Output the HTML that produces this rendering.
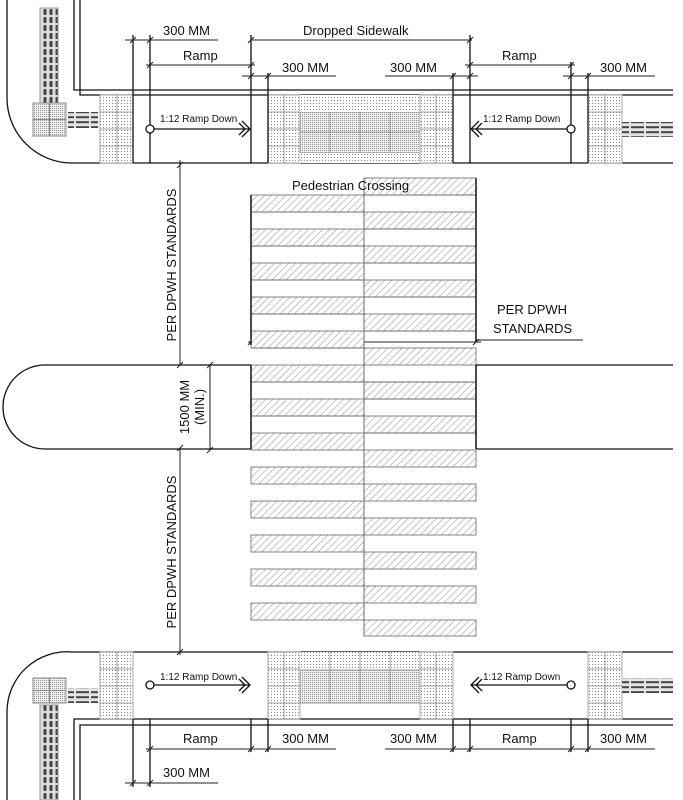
<!DOCTYPE html>
<html><head><meta charset="utf-8"><style>
html,body{margin:0;padding:0;background:#fff;}
svg{display:block;}
text{font-family:"Liberation Sans",sans-serif;fill:#111;}
</style></head><body>
<svg width="683" height="800" viewBox="0 0 683 800" xmlns="http://www.w3.org/2000/svg">
<defs>
<pattern id="hatch" width="5" height="5" patternUnits="userSpaceOnUse" patternTransform="rotate(45)">
<rect width="5" height="5" fill="#fff"/><line x1="0" y1="0" x2="0" y2="5" stroke="#777" stroke-width="0.8"/></pattern>
<pattern id="dots" width="3" height="3" patternUnits="userSpaceOnUse">
<rect width="3" height="3" fill="#fff"/><rect x="1" y="1" width="1" height="1" fill="#888"/></pattern>
<pattern id="dots2" width="2" height="2" patternUnits="userSpaceOnUse">
<rect width="2" height="2" fill="#eee"/><rect x="0" y="0" width="1" height="1" fill="#999"/></pattern>
<pattern id="bars" width="6" height="8" patternUnits="userSpaceOnUse">
<rect width="6" height="8" fill="#ddd"/><rect x="1.5" y="1" width="3" height="6" rx="1" fill="#444"/></pattern>
<pattern id="hbars" width="15" height="5" patternUnits="userSpaceOnUse">
<rect width="15" height="5" fill="#e4e4e4"/><rect x="1" y="1.2" width="13" height="2" fill="#444"/></pattern>
</defs>

<g fill="none" stroke="#111" stroke-width="1.3">
<path d="M7 0 V98 A65 65 0 0 0 72 163 H673"/>
<path d="M74 0 V90 H673 M80 0 V95 H673"/>
<path d="M7 800 V712 A60 60 0 0 1 72 652 H673"/>
<path d="M74 800 V719 H673 M80 800 V725 H673"/>
</g>

<rect x="40" y="8" width="18" height="95" fill="url(#bars)" stroke="#999"/>
<rect x="33" y="103" width="33" height="33" fill="url(#dots2)" stroke="#888"/>
<path d="M49.5 103V136M33 119.5H66" stroke="#888"/>
<rect x="68" y="112" width="30" height="16" fill="url(#hbars)"/>
<rect x="100" y="95" width="33" height="68" fill="url(#dots)" stroke="#aaa"/>
<rect x="268" y="95" width="32" height="68" fill="url(#dots)" stroke="#aaa"/>
<rect x="300" y="112" width="120" height="41" fill="url(#dots2)" stroke="#999"/>
<rect x="300" y="95" width="120" height="17" fill="url(#dots)"/>
<rect x="300" y="153" width="120" height="10" fill="url(#dots)"/>
<rect x="420" y="95" width="33" height="68" fill="url(#dots)" stroke="#aaa"/>
<rect x="588" y="95" width="34" height="68" fill="url(#dots)" stroke="#aaa"/>
<rect x="622" y="122" width="51" height="15" fill="url(#hbars)"/>
<g stroke="#888" stroke-width="0.8"><path d="M117 95V163M100 112H133M100 129H133M100 146H133M284 95V163M268 112H300M268 129H300M268 146H300M436 95V163M420 112H453M420 129H453M420 146H453M605 95V163M588 112H622M588 129H622M588 146H622M330 112V153M360 112V153M390 112V153M300 132H420"/></g>

<rect x="40" y="705" width="18" height="95" fill="url(#bars)" stroke="#999"/>
<rect x="33" y="678" width="33" height="25" fill="url(#dots2)" stroke="#888"/>
<path d="M49.5 678V703M33 690.5H66" stroke="#888"/>
<rect x="68" y="688" width="30" height="15" fill="url(#hbars)"/>
<rect x="100" y="652" width="33" height="67" fill="url(#dots)" stroke="#aaa"/>
<rect x="268" y="652" width="32" height="67" fill="url(#dots)" stroke="#aaa"/>
<rect x="300" y="652" width="120" height="18" fill="url(#dots)"/>
<rect x="300" y="670" width="120" height="33" fill="url(#dots2)" stroke="#999"/>
<rect x="420" y="652" width="33" height="67" fill="url(#dots)" stroke="#aaa"/>
<rect x="588" y="652" width="34" height="67" fill="url(#dots)" stroke="#aaa"/>
<rect x="622" y="678" width="51" height="15" fill="url(#hbars)"/>
<g stroke="#888" stroke-width="0.8"><path d="M117 652V719M100 669H133M100 686H133M100 703H133M284 652V719M268 669H300M268 686H300M268 703H300M436 652V719M420 669H453M420 686H453M420 703H453M605 652V719M588 669H622M588 686H622M588 703H622M330 652V703M360 652V703M390 652V703"/></g>

<g stroke="#111" stroke-width="1.3">
<path d="M133 35V163M150 35V163M251 35V163M268 73V163M453 73V163M470 35V163M571 62V163M588 73V163"/>
<path d="M133 719V787M150 719V787M251 719V752M268 719V752M453 719V752M470 719V752M571 719V752M588 719V752"/>
</g>
<g stroke="#222" stroke-width="1">
<path d="M125 40H218M251 40H472M146 65H255M465 65H575M242 76H336M385 76H478M563 76H655"/>
<path d="M146 749H255M242 749H336M385 749H478M465 749H575M563 749H655M125 783H218"/>
<path d="M180 160V365M180 448V655M210 365V450M248 342H481M476 340H583"/>
</g>
<g stroke="#222" stroke-width="1">
<path d="M130 43l6-6M147 43l6-6M248 43l6-6M467 43l6-6M147 68l6-6M248 68l6-6M467 68l6-6M568 68l6-6M248 79l6-6M265 79l6-6M450 79l6-6M467 79l6-6M568 79l6-6M585 79l6-6"/>
<path d="M147 752l6-6M248 752l6-6M265 752l6-6M450 752l6-6M467 752l6-6M568 752l6-6M585 752l6-6M130 786l6-6M147 786l6-6"/>
<path d="M177 168l6-6M177 368l6-6M177 451l6-6M177 655l6-6M207 368l6-6M207 453l6-6M248 345l6-6M473 345l6-6"/>
</g>

<path d="M251 365H45A42 42 0 0 0 45 449H251" fill="none" stroke="#111" stroke-width="1.3"/>
<path d="M476 365H673M476 449H673" stroke="#111" stroke-width="1.3"/>

<g stroke="#666" stroke-width="0.8">
<rect x="251" y="195" width="113" height="17" fill="url(#hatch)"/>
<rect x="251" y="229" width="113" height="17" fill="url(#hatch)"/>
<rect x="251" y="263" width="113" height="17" fill="url(#hatch)"/>
<rect x="251" y="297" width="113" height="17" fill="url(#hatch)"/>
<rect x="251" y="331" width="113" height="17" fill="url(#hatch)"/>
<rect x="251" y="365" width="113" height="17" fill="url(#hatch)"/>
<rect x="251" y="399" width="113" height="17" fill="url(#hatch)"/>
<rect x="251" y="433" width="113" height="17" fill="url(#hatch)"/>
<rect x="251" y="467" width="113" height="17" fill="url(#hatch)"/>
<rect x="251" y="501" width="113" height="17" fill="url(#hatch)"/>
<rect x="251" y="535" width="113" height="17" fill="url(#hatch)"/>
<rect x="251" y="569" width="113" height="17" fill="url(#hatch)"/>
<rect x="251" y="603" width="113" height="17" fill="url(#hatch)"/>
<rect x="364" y="178" width="112" height="17" fill="url(#hatch)"/>
<rect x="364" y="212" width="112" height="17" fill="url(#hatch)"/>
<rect x="364" y="246" width="112" height="17" fill="url(#hatch)"/>
<rect x="364" y="280" width="112" height="17" fill="url(#hatch)"/>
<rect x="364" y="314" width="112" height="17" fill="url(#hatch)"/>
<rect x="364" y="348" width="112" height="17" fill="url(#hatch)"/>
<rect x="364" y="382" width="112" height="17" fill="url(#hatch)"/>
<rect x="364" y="416" width="112" height="17" fill="url(#hatch)"/>
<rect x="364" y="450" width="112" height="17" fill="url(#hatch)"/>
<rect x="364" y="484" width="112" height="17" fill="url(#hatch)"/>
<rect x="364" y="518" width="112" height="17" fill="url(#hatch)"/>
<rect x="364" y="552" width="112" height="17" fill="url(#hatch)"/>
<rect x="364" y="586" width="112" height="17" fill="url(#hatch)"/>
<rect x="364" y="620" width="112" height="16" fill="url(#hatch)"/>
<path d="M251 212H364M251 246H364M251 280H364M251 314H364M251 348H364M364 195H476M364 229H476M364 263H476M364 297H476M364 331H476M364 382H476M251 382H364M251 416H364M364 399H476M364 433H476M364 178V636"/>
</g>
<path d="M251 195V345M476 178V342M251 365V449M476 365V449" stroke="#111" stroke-width="1.5"/>

<g stroke="#111" stroke-width="1.3" fill="none">
<circle cx="150" cy="129" r="4" fill="#fff"/><path d="M154 129H249M242 121l8 8-8 8M239 123l6 6-6 6"/>
<circle cx="571" cy="129" r="4" fill="#fff"/><path d="M567 129H472M479 121l-8 8 8 8M482 123l-6 6 6 6"/>
<circle cx="150" cy="685" r="4" fill="#fff"/><path d="M154 685H249M242 677l8 8-8 8M239 679l6 6-6 6"/>
<circle cx="571" cy="685" r="4" fill="#fff"/><path d="M567 685H472M479 677l-8 8 8 8M482 679l-6 6 6 6"/>
</g>

<g font-size="13">
<text x="163" y="35">300 MM</text>
<text x="183" y="60">Ramp</text>
<text x="303" y="35">Dropped Sidewalk</text>
<text x="282" y="72">300 MM</text>
<text x="390" y="72">300 MM</text>
<text x="502" y="60">Ramp</text>
<text x="600" y="72">300 MM</text>
<text x="183" y="743">Ramp</text>
<text x="282" y="743">300 MM</text>
<text x="390" y="743">300 MM</text>
<text x="502" y="743">Ramp</text>
<text x="600" y="743">300 MM</text>
<text x="163" y="777">300 MM</text>
<text x="292" y="190">Pedestrian Crossing</text>
<text x="497" y="314">PER DPWH</text>
<text x="493" y="333">STANDARDS</text>
<text transform="translate(176,265) rotate(-90)" text-anchor="middle">PER DPWH STANDARDS</text>
<text transform="translate(176,552) rotate(-90)" text-anchor="middle">PER DPWH STANDARDS</text>
<text transform="translate(189,407) rotate(-90)" text-anchor="middle">1500 MM</text>
<text transform="translate(204,407) rotate(-90)" text-anchor="middle">(MIN.)</text>
</g>
<g font-size="10">
<text x="160" y="122">1:12 Ramp Down</text>
<text x="483" y="122">1:12 Ramp Down</text>
<text x="160" y="680">1:12 Ramp Down</text>
<text x="483" y="680">1:12 Ramp Down</text>
</g>
</svg>
</body></html>
